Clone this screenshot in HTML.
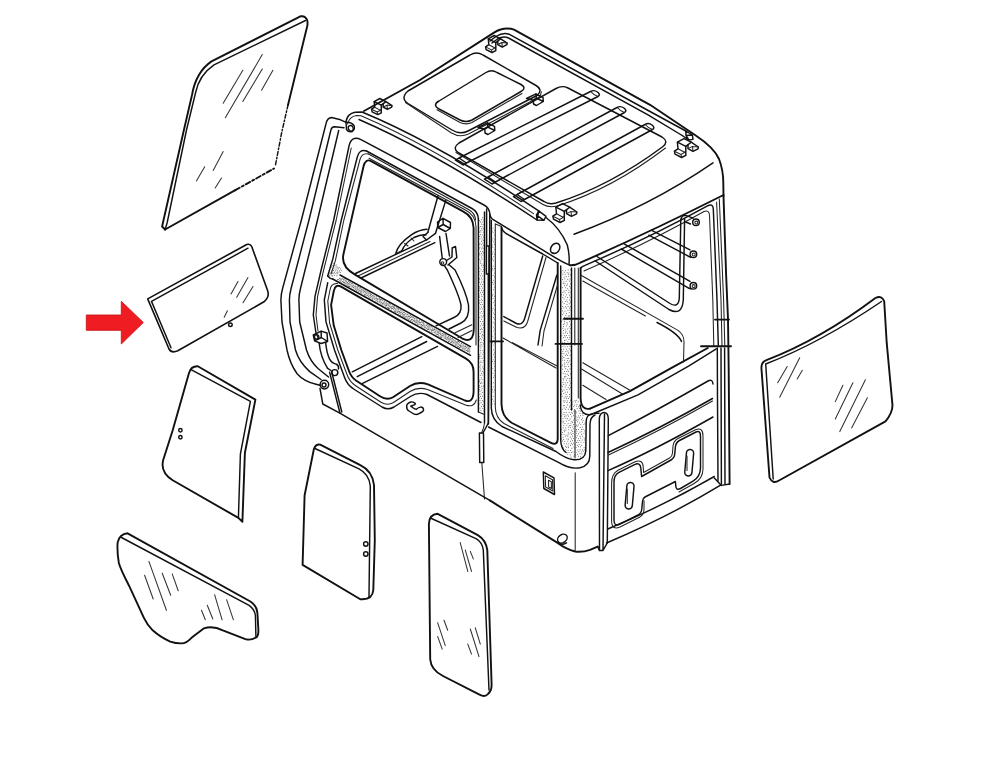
<!DOCTYPE html>
<html><head><meta charset="utf-8"><title>Cab glass diagram</title>
<style>
html,body{margin:0;padding:0;background:#fff;}
body{width:1000px;height:766px;overflow:hidden;font-family:"Liberation Sans",sans-serif;}
svg{display:block;}
.k{fill:none;stroke:#111;stroke-width:1.45;stroke-linecap:round;stroke-linejoin:round;}
.k2{fill:none;stroke:#111;stroke-width:1.9;stroke-linecap:round;stroke-linejoin:round;}
.t{fill:none;stroke:#222;stroke-width:1.05;stroke-linecap:round;stroke-linejoin:round;}
.r{fill:none;stroke:#333;stroke-width:1.05;stroke-linecap:round;}
</style></head><body>
<svg width="1000" height="766" viewBox="0 0 1000 766">
<rect width="1000" height="766" fill="#fff"/>
<!-- ARROW -->
<polygon points="86.3,315 121.3,315 121.3,301.3 143.3,322.5 121.3,344 121.3,330.3 86.3,330.3" fill="#ef1c21" stroke="#c7181d" stroke-width="0.9" stroke-linejoin="miter"/>

<!-- PANEL 1 : large upper-left glass -->
<g id="p1">
<path class="k2" d="M165.1,229.5 L162.1,226.5 L183.9,130 L192,95 Q196,72 211.5,61.4 L300.4,16.3 Q306,15.5 307.5,21.3 L307.5,25 L288,105"/>
<path class="k" d="M165.1,229.5 L167.1,223 L186.5,130 L195.5,93 Q199,75 214,64.8 L305.5,20.5"/>
<path class="k2" d="M165.1,229.5 L235.3,190.2"/>
<path class="k2" stroke-dasharray="5 2.5 2 2.5" d="M235.3,190.2 L274,168.5"/>
<path class="k" stroke-dasharray="4 2 1.5 2" d="M288,105 L281.6,133 L275.4,165.4"/>
<path class="r" d="M262.3,54.6 L225.3,117.8 M242.8,70.2 L223.2,103.3 M262.3,69 L242.8,101.5 M272.9,70.2 L261.6,90.2 M223.2,151.6 L213.2,170.4 M204.7,166.7 L196.4,181 M221.5,178 L215.2,188"/>
</g>

<!-- PANEL 2 : arrow target -->
<g id="p2">
<path class="k" style="stroke-width:1.6" d="M147.7,298.9 L246.7,244.5 Q250.5,243.5 251.7,246.5 L267.5,290.2 Q270,297 264,301.8 L177.8,350.8 Q171.5,353.5 169,349 Z"/>
<path class="k" d="M151.5,301.4 L171,347.8 M151.5,301.4 L248,248.2"/>
<circle class="k" cx="230.4" cy="324.7" r="1.8"/>
<path class="r" d="M248,277.6 L236.7,297.2 M238,281.4 L231,293.9 M253,286.4 L243,302.7 M227.4,310.7 L224.2,317.2"/>
</g>

<!-- PANEL 3 -->
<g id="p3">
<path class="k2" d="M197.8,366.3 L255.4,399.6 L244.9,452.8 L242.4,521.7 L238.4,517.9 L172.7,480.3 Q160,472 163.2,460 L172.7,430.2 L189,373 Q191,366 197.8,366.3 Z"/>
<path class="k" d="M191.5,369.8 L250.4,401.4 L240.4,454 L238.4,517.9"/>
<circle class="k" cx="180.4" cy="430.2" r="1.7"/><circle class="k" cx="180.4" cy="437.2" r="1.7"/>
</g>

<!-- PANEL 4 -->
<g id="p4">
<path class="k2" d="M320.2,444.6 L360.3,465.1 Q372.5,471 374,485 L374.8,540.3 L373.3,590 Q372.5,599.5 362,599.2 L360.3,599.2 L302.6,564.9 L304.6,495.2 L313.9,449 Q315.5,444 320.2,444.6 Z"/>
<path class="k" d="M315,448.5 L359,468.9 Q369,474 370.3,486 L369,597"/>
<circle class="k" cx="365.8" cy="544" r="2.2"/><circle class="k" cx="365.8" cy="554" r="2.2"/>
</g>

<!-- PANEL 5 -->
<g id="p5">
<path class="k2" d="M127.6,533.3 L250.4,601.5 Q257,606 257.4,613 L258.4,630.3 Q258.5,637 255.4,637.8 Q251,640.5 245.4,639.1 L222.8,630.3 Q213,625.5 204,628.3 L191.5,637.8 Q186,643.5 181.5,643.4 Q176,643.5 170.2,641.6 Q160,637 152.7,630.3 Q147,624.5 143.9,617.8 L128.8,585.2 Q120,568 118.8,562.7 Q117,552 117.6,542.6 Q119.5,534 127.6,533.3 Z"/>
<path class="k" d="M121.5,537.5 L249.1,605.3 Q254.5,609 255.4,615.3 L255.9,636.6"/>
<path class="r" d="M148.9,561.4 L166.4,610.3 M144.6,575.2 L153.2,599 M162.2,573.2 L170.7,595.2 M172.2,573.9 L178.2,590.7 M214.6,594.7 L222.1,619.8 M226.6,599.7 L233.4,619.8 M207.3,605.3 L212.8,619 M201.5,610.3 L205.3,619.8"/>
</g>

<!-- PANEL 6 -->
<g id="p6">
<path class="k2" d="M437.7,513.8 L477.8,535.1 Q486,540 487.3,550.1 L491.6,684.3 Q492,690.5 488,694 Q485,697.5 479.5,694.6 L443,676 Q431,670 430.2,659.2 L428.9,524 Q429,514.5 437.7,513.8 Z"/>
<path class="k" d="M431.5,518.5 L476.5,538.8 Q482.5,542.5 483.3,550.1 L489,690"/>
<path class="r" d="M460.2,542.6 L467.8,571.4 M465.3,550.1 L471.5,571.4 M470.3,551.4 L473.3,558.9 M437.7,622.8 L445.2,645.4 M444,620.3 L447.7,630.3 M437.7,636.6 L442.2,649.1 M470.3,629 L479,656.6 M475.3,627.8 L480.3,644.1 M467.8,644.1 L471.5,654.1"/>
</g>

<!-- PANEL 7 : right -->
<g id="p7">
<path class="k2" d="M766.4,360.2 Q821,339 875.4,298 Q882,295 884.2,301.3 L886.7,342.7 L892.5,405.3 Q892.5,413 885.5,421.4 L779,480.5 Q772.5,484.5 769.5,477.5 L761.4,367.7 Q761.5,362 766.4,360.2 Z"/>
<path class="k" d="M765.7,364 Q821,342.5 881.5,301.5 M765.7,364 L773.2,479"/>
<path class="r" d="M799.7,357.7 L779.7,397.3 M787.2,366.5 L777.7,382.8 M802.3,370.2 L797.2,379 M865.4,379.7 L839.8,431.6 M852.9,382.8 L835.3,419.1 M867.4,397.8 L851.6,427.9 M842.9,385.3 L835.3,401.6"/>
</g>

<!-- CAB -->
<g id="cab">
<path class="k" d="M346,122.3 L340.6,119.8 L331.6,117.5 Q327.3,117.8 326,123.7 L301.4,220 L282.7,288 Q280.5,296 281,302 L282,322 L287,350 Q290,364 297.3,374 Q304,381.5 316,384.3 L320,385.3"/>
<path class="k" d="M344,127.7 L334.6,126.8 Q331.5,127 330.9,130 L309,220 L291.2,288 Q289,296 289.5,303 L290,322 L295.5,350 Q299,362 309.7,371.6 L321,379.5"/>
<path class="k" d="M338.7,130.5 L317.5,220 L300.6,288 Q298.5,296 299,302 L299.7,322 L306.5,350 Q310,361 318,368.5 L328.5,377"/>
<path class="k" d="M346,122.3 Q351,121.5 354,125.5 Q355.5,129.5 352,131.5 Q348.5,132.5 346.5,129.5 Z"/>
<ellipse class="k" cx="350.8" cy="128.3" rx="2.4" ry="2.9" transform="rotate(-25 350.8 128.3)"/>
<path class="k" d="M488.5,424 L489.8,214 Q489.5,208 484,205 L361,139.6 Q351.5,135 349,146 L333.7,220 L320.9,271 L315,296.4 L313.3,315 L315.8,332"/>
<path class="t" d="M351.2,148 L336.2,220 L323.4,271 L317.6,296.4 L316,315 L318,331"/>
<path class="k" d="M366.5,151 Q359,149 357.3,157 L341.3,220 L332.8,259 L327.7,276"/>
<path class="t" d="M368.5,154 Q362,152.5 360,159.5 L343.9,220 L335.4,260.7 L331,274"/>
<path class="k" d="M366.5,151 L472,208.5 Q478.2,212 478.4,219"/>
<path class="t" d="M368.5,154 L469,209.8 Q475.3,213.5 475.5,220"/>
<path class="k2" d="M371.5,161.3 L463,211.3 Q473.3,216.5 473.6,228 L473.8,328 Q473.8,344.5 462,338.3 L355,274.6 Q340.5,266.5 343.5,254 L363.5,166.5 Q365.5,158 371.5,161.3 Z"/>
<path class="t" d="M369,158.2 L465,209.8 Q475.8,215 476,227 L476,345"/>
<path class="k" d="M340,275 L470.5,346.6"/>
<path class="k" d="M332.7,279 L470.5,355.3"/>
<path class="k" d="M327.7,276 Q330,279 332.7,279"/>
<path d="M339.5,278.4h0.01M340.9,278.4h0.01M342.6,278.8h0.01M344.2,278.6h0.01M337.4,279.6h0.01M338.8,279.6h0.01M340.5,279.9h0.01M341.6,279.9h0.01M343.5,279.7h0.01M344.9,279.9h0.01M346.1,280.1h0.01M339.5,280.9h0.01M340.8,281.4h0.01M342.4,281.5h0.01M343.8,281.1h0.01M345.4,281.0h0.01M346.8,281.5h0.01M348.6,281.4h0.01M341.7,282.7h0.01M343.4,282.5h0.01M344.4,282.5h0.01M346.1,282.8h0.01M347.4,282.4h0.01M349.3,282.2h0.01M350.4,282.7h0.01M344.2,283.8h0.01M345.7,283.9h0.01M347.1,283.6h0.01M348.5,283.7h0.01M349.7,284.0h0.01M351.4,283.6h0.01M352.5,283.8h0.01M346.3,285.1h0.01M347.7,285.1h0.01M348.9,284.9h0.01M350.3,284.9h0.01M351.9,285.3h0.01M353.5,285.3h0.01M355.0,285.0h0.01M348.5,286.4h0.01M349.6,286.5h0.01M351.0,286.3h0.01M352.6,286.2h0.01M354.1,286.6h0.01M355.7,286.4h0.01M357.1,286.4h0.01M358.3,286.5h0.01M352.0,287.7h0.01M353.6,287.5h0.01M355.0,287.8h0.01M356.2,288.0h0.01M357.7,287.7h0.01M359.2,287.9h0.01M360.5,287.7h0.01M354.1,288.9h0.01M355.4,289.2h0.01M357.2,289.0h0.01M358.2,289.2h0.01M360.1,288.9h0.01M361.4,289.3h0.01M363.1,289.1h0.01M356.4,290.3h0.01M357.9,290.1h0.01M359.4,290.3h0.01M360.9,290.6h0.01M362.1,290.1h0.01M363.8,290.3h0.01M365.2,290.2h0.01M358.6,291.8h0.01M360.1,291.6h0.01M361.5,291.8h0.01M363.1,291.4h0.01M364.5,291.4h0.01M365.9,291.7h0.01M367.2,291.9h0.01M360.7,292.9h0.01M361.9,293.1h0.01M363.3,292.8h0.01M365.2,292.7h0.01M366.4,293.2h0.01M368.1,292.8h0.01M369.3,293.1h0.01M370.7,293.2h0.01M364.6,294.3h0.01M365.5,294.3h0.01M367.1,294.1h0.01M368.7,294.0h0.01M370.3,294.4h0.01M371.6,294.5h0.01M364.8,295.3h0.01M366.2,295.8h0.01M367.7,295.6h0.01M369.2,295.7h0.01M370.7,295.4h0.01M372.5,295.6h0.01M373.8,295.8h0.01M368.6,296.7h0.01M370.1,297.1h0.01M371.3,296.6h0.01M373.0,297.0h0.01M374.6,296.8h0.01M376.2,296.7h0.01M369.5,298.1h0.01M370.9,298.1h0.01M372.3,298.2h0.01M373.8,298.1h0.01M375.2,298.2h0.01M376.4,298.2h0.01M377.9,298.4h0.01M379.5,298.3h0.01M372.7,299.4h0.01M374.5,299.2h0.01M376.1,299.2h0.01M377.4,299.3h0.01M379.0,299.5h0.01M380.4,299.5h0.01M381.8,299.6h0.01M375.3,301.0h0.01M376.8,300.9h0.01M377.9,300.9h0.01M379.7,301.0h0.01M380.7,300.9h0.01M382.3,300.6h0.01M384.1,300.9h0.01M377.3,302.0h0.01M379.1,302.0h0.01M380.0,302.3h0.01M381.6,302.3h0.01M383.2,302.3h0.01M384.5,301.9h0.01M386.2,302.1h0.01M380.9,303.7h0.01M382.6,303.6h0.01M383.8,303.6h0.01M385.1,303.2h0.01M386.8,303.4h0.01M388.0,303.3h0.01M389.4,303.6h0.01M381.9,305.0h0.01M383.0,304.9h0.01M384.7,304.9h0.01M386.2,304.7h0.01M387.2,304.9h0.01M388.8,304.8h0.01M390.3,304.7h0.01M385.5,305.8h0.01M386.6,305.7h0.01M388.2,305.8h0.01M389.5,306.2h0.01M391.1,306.3h0.01M392.5,306.1h0.01M393.7,306.3h0.01M385.8,307.1h0.01M387.5,307.4h0.01M388.8,307.5h0.01M390.5,307.2h0.01M391.8,307.1h0.01M393.5,307.4h0.01M394.5,307.1h0.01M396.3,307.2h0.01M388.4,308.5h0.01M389.7,308.5h0.01M391.3,308.4h0.01M392.6,308.5h0.01M394.2,308.5h0.01M395.7,308.8h0.01M397.1,308.4h0.01M398.6,308.8h0.01M391.6,310.1h0.01M393.3,309.6h0.01M394.9,310.1h0.01M396.1,310.0h0.01M397.9,309.9h0.01M399.0,309.8h0.01M400.6,310.0h0.01M394.3,311.5h0.01M395.4,311.3h0.01M397.1,311.4h0.01M398.3,311.4h0.01M399.7,311.5h0.01M401.2,311.0h0.01M402.8,311.0h0.01M395.9,312.5h0.01M397.6,312.4h0.01M399.2,312.4h0.01M400.6,312.7h0.01M401.9,312.5h0.01M403.7,312.6h0.01M404.7,312.3h0.01M398.6,314.1h0.01M399.8,313.8h0.01M401.1,314.1h0.01M402.5,313.6h0.01M404.0,314.1h0.01M405.8,313.7h0.01M407.3,314.1h0.01M400.6,315.2h0.01M402.2,315.0h0.01M403.7,315.0h0.01M404.6,315.0h0.01M406.1,314.9h0.01M407.8,314.9h0.01M409.0,315.0h0.01M410.5,315.4h0.01M402.9,316.4h0.01M403.9,316.3h0.01M405.7,316.6h0.01M406.9,316.5h0.01M408.6,316.5h0.01M409.7,316.4h0.01M411.3,316.5h0.01M412.8,316.2h0.01M404.8,317.5h0.01M406.1,317.9h0.01M407.6,318.0h0.01M409.1,318.0h0.01M410.6,317.6h0.01M412.1,317.5h0.01M413.5,317.7h0.01M414.7,318.0h0.01M408.7,319.3h0.01M409.7,318.9h0.01M411.4,319.3h0.01M412.6,319.3h0.01M414.2,319.1h0.01M416.0,318.8h0.01M417.1,318.9h0.01M410.7,320.4h0.01M411.9,320.1h0.01M413.7,320.5h0.01M415.0,320.6h0.01M416.7,320.2h0.01M417.7,320.4h0.01M419.5,320.2h0.01M412.9,321.4h0.01M414.6,321.4h0.01M415.9,321.8h0.01M417.1,321.8h0.01M418.6,321.8h0.01M419.8,321.9h0.01M421.5,321.9h0.01M423.0,321.9h0.01M415.3,322.9h0.01M416.5,322.7h0.01M417.9,323.0h0.01M419.5,322.9h0.01M420.5,322.7h0.01M422.3,322.8h0.01M423.6,323.0h0.01M417.3,324.2h0.01M418.9,324.4h0.01M420.1,324.2h0.01M421.4,324.5h0.01M423.2,324.2h0.01M424.2,324.1h0.01M426.2,324.0h0.01M427.5,324.3h0.01M421.0,325.7h0.01M422.5,325.5h0.01M423.8,325.8h0.01M425.0,325.8h0.01M426.3,325.6h0.01M428.1,325.4h0.01M429.8,325.5h0.01M421.7,326.8h0.01M422.9,327.0h0.01M424.6,327.1h0.01M425.8,327.1h0.01M427.5,326.9h0.01M428.7,326.9h0.01M430.0,326.6h0.01M431.6,326.7h0.01M425.0,328.1h0.01M426.5,328.3h0.01M428.1,328.4h0.01M429.2,328.0h0.01M430.8,328.1h0.01M432.4,328.1h0.01M434.2,328.2h0.01M427.3,329.6h0.01M428.5,329.5h0.01M430.1,329.6h0.01M431.9,329.5h0.01M433.2,329.4h0.01M434.5,329.5h0.01M436.1,329.3h0.01M429.8,331.0h0.01M431.3,330.7h0.01M432.4,330.6h0.01M433.8,330.5h0.01M435.3,331.1h0.01M436.9,330.7h0.01M438.1,331.1h0.01M439.4,331.0h0.01M431.5,331.9h0.01M433.0,332.3h0.01M434.4,332.2h0.01M435.8,331.9h0.01M437.6,332.1h0.01M438.7,332.1h0.01M440.7,332.0h0.01M435.1,333.1h0.01M436.9,333.2h0.01M438.4,333.1h0.01M439.4,333.3h0.01M440.9,333.4h0.01M442.5,333.6h0.01M444.0,333.7h0.01M436.3,334.6h0.01M437.4,334.5h0.01M438.7,334.9h0.01M440.7,334.5h0.01M441.8,335.0h0.01M443.5,335.0h0.01M445.0,334.6h0.01M445.9,334.6h0.01M438.2,336.1h0.01M439.9,336.1h0.01M441.1,336.2h0.01M442.6,335.7h0.01M444.1,336.0h0.01M445.4,336.0h0.01M446.8,335.9h0.01M448.5,336.3h0.01M440.5,337.4h0.01M441.6,337.3h0.01M443.0,337.1h0.01M445.0,337.3h0.01M446.0,337.3h0.01M447.4,337.4h0.01M448.9,337.2h0.01M450.6,337.6h0.01M444.1,338.8h0.01M445.4,338.7h0.01M447.1,338.6h0.01M448.5,338.9h0.01M449.7,338.7h0.01M451.3,338.8h0.01M452.6,338.5h0.01M446.4,339.7h0.01M447.8,339.9h0.01M449.2,340.0h0.01M450.7,339.8h0.01M452.1,339.9h0.01M453.6,339.9h0.01M455.0,340.2h0.01M448.5,341.4h0.01M449.7,341.2h0.01M451.3,341.3h0.01M452.4,341.4h0.01M454.1,341.0h0.01M455.8,341.3h0.01M457.2,341.4h0.01M458.6,341.5h0.01M450.8,342.6h0.01M451.8,342.5h0.01M453.7,342.3h0.01M454.9,342.6h0.01M456.3,342.3h0.01M457.6,342.8h0.01M459.2,342.4h0.01M452.7,344.0h0.01M453.9,343.9h0.01M455.5,344.0h0.01M457.0,343.7h0.01M458.4,344.0h0.01M460.1,344.1h0.01M461.4,343.6h0.01M455.2,345.3h0.01M456.6,345.0h0.01M457.9,345.1h0.01M459.4,345.3h0.01M460.6,345.4h0.01M462.1,345.1h0.01M463.7,345.0h0.01M465.3,345.1h0.01M457.4,346.7h0.01M458.5,346.7h0.01M460.3,346.4h0.01M461.2,346.3h0.01M462.9,346.3h0.01M464.2,346.6h0.01M465.5,346.5h0.01M467.2,346.6h0.01M459.5,347.5h0.01M460.9,347.5h0.01M462.2,348.1h0.01M463.7,348.0h0.01M465.0,348.0h0.01M466.7,347.6h0.01M468.1,348.0h0.01M469.2,347.7h0.01M462.8,349.0h0.01M464.2,349.1h0.01M465.8,348.8h0.01M467.3,349.2h0.01M468.5,348.9h0.01M469.8,349.1h0.01M465.1,350.3h0.01M466.7,350.5h0.01M467.9,350.5h0.01M469.2,350.2h0.01M467.5,351.7h0.01M468.7,351.6h0.01M470.0,351.7h0.01M469.4,353.1h0.01" fill="none" stroke="#333" stroke-width="0.9" stroke-linecap="round"/>
<path d="M333.5,263.8h0.01M332.9,265.7h0.01M334.9,265.5h0.01M336.2,265.0h0.01M331.6,266.9h0.01M333.9,266.9h0.01M336.0,267.1h0.01M337.3,267.1h0.01M339.2,267.4h0.01M333.1,268.8h0.01M335.0,269.2h0.01M336.9,269.0h0.01M338.6,268.8h0.01M340.6,268.9h0.01M331.8,270.8h0.01M333.6,270.5h0.01M335.7,270.9h0.01M337.3,270.8h0.01M339.6,270.9h0.01M341.2,270.7h0.01M331.1,272.5h0.01M332.9,272.3h0.01M334.5,272.3h0.01M337.0,272.6h0.01M338.1,272.1h0.01M340.2,272.5h0.01M329.7,273.8h0.01M332.2,273.7h0.01M333.8,273.8h0.01M335.9,273.6h0.01M337.7,273.8h0.01M329.4,275.8h0.01M331.2,275.9h0.01M332.4,275.9h0.01M334.6,275.4h0.01M336.9,275.8h0.01" fill="none" stroke="#333" stroke-width="0.84" stroke-linecap="round"/>
<path class="k2" d="M341,286.6 L466,358.6 Q473.6,363 473.6,372 L473.6,392 Q473,403.5 465,400.5 L428,384.4 Q418,381 410,386 L393,397.2 Q387,400.8 380,396.3 L356,380.5 Q351,377 349,371 L341.3,350 L333.7,325.3 L331.1,304.9 L333.8,291 Q335.5,283.5 341,286.6 Z"/>
<path class="k" d="M327.7,282.8 L324.3,299.8 L326,321.9 L334.5,350 L344.4,377 Q347,385 354.4,389.5 L382,407 Q388,410.5 394,407 L410.4,396.5 Q418,391.5 427,394.5 L481,422.5"/>
<path class="t" d="M337.5,283.5 Q331,283 330,290 L327.8,301 L329.6,323 L337.8,350 L346.8,374 Q349.5,382 356,386 L381,402.2 Q387.5,406 393.5,402.5 L410,391.5 Q418,386.5 427.5,389.5 L465.5,405 Q474,408 476.3,400"/>
<path class="k" d="M478.4,219 L478.4,412"/>
<path class="k" d="M484.5,212 L484.5,423"/>
<path class="k" d="M486.6,209 L486.6,246 M488.3,274 L488.3,423 Q486,428 483,432.5"/>
<path d="M482.6,217.7h0.01M479.3,220.6h0.01M481.3,219.8h0.01M483.2,219.9h0.01M480.6,222.0h0.01M482.2,222.2h0.01M481.6,224.1h0.01M483.1,224.7h0.01M480.5,226.6h0.01M482.2,226.8h0.01M479.1,228.0h0.01M481.8,228.6h0.01M483.3,228.8h0.01M480.2,230.6h0.01M482.0,230.2h0.01M479.3,232.1h0.01M481.0,232.1h0.01M483.7,232.2h0.01M480.4,234.6h0.01M482.7,235.0h0.01M479.5,236.4h0.01M481.2,237.0h0.01M483.4,237.1h0.01M480.0,238.9h0.01M482.2,239.0h0.01M481.5,241.2h0.01M483.2,240.5h0.01M479.9,243.2h0.01M482.6,243.1h0.01M479.3,244.7h0.01M481.3,244.5h0.01M483.5,245.1h0.01M479.9,247.3h0.01M482.2,247.0h0.01M479.2,248.8h0.01M481.5,249.0h0.01M483.1,248.7h0.01M480.3,251.5h0.01M482.6,251.6h0.01M479.2,253.5h0.01M481.6,253.4h0.01M483.6,252.9h0.01M479.9,254.9h0.01M482.1,255.2h0.01M481.6,257.2h0.01M479.8,259.6h0.01M482.1,259.0h0.01M480.8,261.1h0.01M480.5,263.2h0.01M482.0,264.0h0.01M481.5,265.7h0.01M483.4,265.3h0.01M479.8,268.0h0.01M482.9,267.3h0.01M481.1,269.8h0.01M483.6,269.6h0.01M479.8,271.8h0.01M482.8,271.5h0.01M479.0,274.3h0.01M481.4,273.8h0.01M480.6,275.8h0.01M482.4,276.0h0.01M479.3,278.2h0.01M481.4,278.1h0.01M479.8,279.8h0.01M482.2,279.8h0.01M479.5,282.3h0.01M481.6,282.2h0.01M483.6,282.0h0.01M480.5,284.2h0.01M482.4,284.6h0.01M479.4,286.9h0.01M481.3,286.3h0.01M479.9,288.4h0.01M482.3,288.2h0.01M479.3,290.4h0.01M481.4,290.3h0.01M483.2,290.8h0.01M480.4,292.8h0.01M482.6,292.3h0.01M479.0,295.0h0.01M481.6,294.8h0.01M483.7,294.3h0.01M479.7,297.1h0.01M482.0,296.5h0.01M481.5,299.2h0.01M479.9,300.5h0.01M482.3,300.5h0.01M479.5,303.0h0.01M481.3,302.5h0.01M480.4,304.7h0.01M482.2,304.6h0.01M479.0,306.9h0.01M481.4,307.3h0.01M483.3,306.7h0.01M480.2,309.0h0.01M482.4,309.0h0.01M481.5,311.4h0.01M483.8,311.4h0.01M480.2,313.0h0.01M482.9,313.3h0.01M481.2,315.8h0.01M483.5,315.7h0.01M479.8,317.5h0.01M482.2,317.2h0.01M481.4,319.4h0.01M480.5,321.5h0.01M482.7,321.5h0.01M481.4,323.9h0.01M483.6,323.9h0.01M480.6,326.0h0.01M482.9,325.6h0.01M481.6,328.2h0.01M483.5,327.7h0.01M480.6,329.6h0.01M482.1,329.5h0.01M481.2,331.9h0.01M483.1,331.8h0.01M480.2,333.5h0.01M482.4,334.4h0.01M479.2,336.5h0.01M481.7,336.1h0.01M483.1,335.6h0.01M480.2,338.5h0.01M482.3,337.8h0.01M479.3,340.2h0.01M481.3,339.8h0.01M483.7,340.3h0.01M480.4,342.7h0.01M482.0,342.6h0.01M481.1,344.6h0.01M483.5,343.9h0.01M480.1,346.1h0.01M482.0,346.0h0.01M480.8,348.1h0.01M480.6,350.6h0.01M482.9,350.7h0.01M480.9,352.9h0.01M483.8,352.4h0.01M479.8,354.8h0.01M482.9,354.4h0.01M479.5,356.8h0.01M481.0,356.4h0.01M483.8,357.2h0.01M479.9,358.6h0.01M482.1,358.5h0.01M481.0,361.1h0.01M483.3,360.7h0.01M480.1,362.6h0.01M482.0,362.6h0.01M480.8,365.0h0.01M480.0,367.0h0.01M482.4,366.9h0.01M480.9,368.9h0.01M483.4,368.8h0.01M480.3,370.9h0.01M482.5,371.4h0.01M481.6,373.3h0.01M483.3,372.9h0.01M480.3,375.3h0.01M482.2,375.0h0.01M481.3,377.8h0.01M479.9,379.9h0.01M482.2,379.6h0.01M479.4,381.6h0.01M481.2,382.1h0.01M480.4,383.4h0.01M482.0,383.2h0.01M479.4,385.8h0.01M481.7,386.2h0.01M483.3,386.2h0.01M479.9,387.5h0.01M482.2,388.3h0.01M479.4,389.7h0.01M481.3,390.2h0.01M480.0,391.7h0.01M482.5,392.4h0.01M479.1,394.4h0.01M481.0,394.0h0.01M480.4,396.4h0.01M482.4,396.3h0.01M479.2,398.1h0.01M481.3,398.5h0.01M480.0,400.4h0.01M482.5,400.6h0.01M481.1,402.6h0.01M483.8,401.8h0.01M479.8,404.0h0.01M482.5,404.6h0.01M481.4,406.6h0.01M483.5,406.2h0.01M480.0,408.2h0.01M482.8,408.4h0.01M481.0,410.4h0.01M483.8,410.9h0.01" fill="none" stroke="#333" stroke-width="0.84" stroke-linecap="round"/>
<path class="t" d="M478.4,412 L484.5,414.5"/>
<path class="k" d="M486.4,246 L489,246 L489,274 L486.4,274 Z"/>
<path class="k" d="M479.4,433 L483.5,433 L483.8,462.5 L479.7,462.5 Z"/>
<path class="t" d="M484.5,423 Q484,428 481.5,433 M481.8,462.5 L484.5,499"/>
<path class="k" d="M320,388.5 L322.8,404 L339.4,412.9 L489.8,500.4"/>
<path class="t" d="M315.8,332 L318,338"/>
<path class="k" d="M346,121.5 Q347.5,113.5 355,112.2 L362,112 Q437,143 538.7,210.9"/>
<path class="k2" d="M364,111 L420,80 L494,32.6 Q504,26.5 514,29.6 L650,104.8 L695.4,135.2 Q714,147.5 719,159 Q723.3,170 723.3,183 L723.5,196"/>
<path class="t" d="M347.5,124 Q349.5,116.5 356.5,115.5 L361,115.8 Q435,147.5 533.5,213.6"/>
<path class="k" d="M359,119.5 Q434,152 537,220"/>
<path class="k" d="M538.7,210.9 L546,216.3 L544,220.3 L537,220 Z M538.7,210.9 L536.5,215 L537,220 M536.5,215 L544,220.3"/>
<path class="k" d="M490,41 L496,36.5 Q503,32 509,34.2 L650,111.5 L685.8,131"/>
<path class="k" d="M492,43 L497.5,39 Q503.5,35.5 508.5,38 L648,114.8 L682.2,135.5"/>
<path class="k" d="M685.8,131 L692.4,135 L693,139.4 L688.8,140 L682.2,135.5 M685.8,131 L686,135.5 L688.8,140 M686,135.5 L692.4,135"/>
<path class="k" d="M408,91 L470,55 Q476.5,51 483,55 L536,85.5 Q543.5,90 537,95.5 L468,131 Q460,135 452,130 L408,103.5 Q400,98 408,91 Z"/>
<path class="t" d="M405.5,102.5 L451.5,133 Q460,138 468.5,134 L538.5,97.5 Q541.5,95 541.2,91.5"/>
<path class="k" d="M439,101 L486,72.5 Q491.5,69 497,72.5 L521,84.5 Q527,88 521,91.5 L472,120 Q466,123 460,120 L439,109 Q432,105 439,101 Z"/>
<path class="t" d="M437,109.8 L460,122.5 Q466,125.3 472,122.5 L522,93.5"/>
<path class="k" d="M526.5,98.5 L536,93.8 L543,97.3 L543.3,101.5 L536.5,105.5 L533.5,104 L533.3,100.2 L526.5,98.5 M536,93.8 L536.3,98.2 L533.3,100.2 M536.3,98.2 L543.3,101.5"/>
<path class="k" d="M478,127.5 L487.5,122.8 L494.5,126.3 L494.8,130.5 L488,134.5 L485,133 L484.8,129.2 L478,127.5 M487.5,122.8 L487.8,127.2 L484.8,129.2 M487.8,127.2 L494.8,130.5"/>
<path class="k" d="M459,143 L556,88.5 Q562,85 568,88 L662,137 Q669,141.5 663,146.5 Q610,186 556,203 Q549,205 544,201.5 L458,152.5 Q452,148 459,143 Z"/>
<path class="t" d="M456,152.5 L543,204.5 Q549,208 557,206 Q612,189 665.5,148"/>
<path class="k" d="M459,158 L590.5,91.5 Q594.0,89.5 597.5,92.0 Q601.0,95.0 598.0,96.5 L466.5,163 M459,158 L455.5,160.2 L463,165 L466.5,163 M459,158 L466.5,163"/>
<path class="t" d="M591.0,91.8 Q593.5,95.0 598.0,96.5"/>
<path class="k" d="M488,177 L617,107.5 Q620.5,105.5 624,108.0 Q627.5,111.0 624.5,112.5 L495.5,182 M488,177 L484.5,179.2 L492,184 L495.5,182 M488,177 L495.5,182"/>
<path class="t" d="M617.5,107.8 Q620,111.0 624.5,112.5"/>
<path class="k" d="M517,194.5 L645,124.5 Q648.5,122.5 652,125.0 Q655.5,128.0 652.5,129.5 L524.5,199.5 M517,194.5 L513.5,196.7 L521,201.5 L524.5,199.5 M517,194.5 L524.5,199.5"/>
<path class="t" d="M645.5,124.8 Q648,128.0 652.5,129.5"/>
<path class="k" d="M374.2,101.6 L379.8,98.5 L385.9,101.6 L381.3,105.1 Z"/>
<path class="k" d="M374.2,101.6 L374.7,107.2 L371.6,109.2 L372.1,111.8 L377.8,114.6 L381.3,112.8 L381.3,105.1"/>
<path class="t" d="M374.7,107.2 L380.2,110.1 L381.3,109.2 M371.6,109.2 L377.2,112.0 L377.8,114.6 M377.2,112.0 L380.5,110.2"/>
<path class="k" d="M385.9,101.6 L392.0,105.7 L391.7,107.2 L387.4,109.4 L383.2,107.0 L383.2,103.8"/>
<path class="t" d="M383.2,107.0 L387.0,105.1 L392.0,105.7 M387.0,105.1 L387.4,109.4"/>
<path class="k" d="M488.3,38.8 L494.2,35.5 L500.7,38.8 L495.8,42.6 Z"/>
<path class="k" d="M488.3,38.8 L488.8,44.7 L485.6,46.9 L486.1,49.6 L492.0,52.5 L495.8,50.7 L495.8,42.6"/>
<path class="t" d="M488.8,44.7 L494.6,47.8 L495.8,46.9 M485.6,46.9 L491.5,49.9 L492.0,52.5 M491.5,49.9 L494.9,48.0"/>
<path class="k" d="M500.7,38.8 L507.2,43.1 L506.8,44.7 L502.3,47.1 L497.8,44.5 L497.8,41.1"/>
<path class="t" d="M497.8,44.5 L501.9,42.6 L507.2,43.1 M501.9,42.6 L502.3,47.1"/>
<path class="k" d="M677.4,142.2 L684.0,138.6 L691.2,142.2 L685.8,146.4 Z"/>
<path class="k" d="M677.4,142.2 L678.0,148.8 L674.4,151.2 L675.0,154.2 L681.6,157.5 L685.8,155.4 L685.8,146.4"/>
<path class="t" d="M678.0,148.8 L684.5,152.2 L685.8,151.2 M674.4,151.2 L681.0,154.5 L681.6,157.5 M681.0,154.5 L684.8,152.4"/>
<path class="k" d="M691.2,142.2 L698.4,147.0 L698.0,148.8 L693.0,151.4 L688.0,148.6 L688.0,144.8"/>
<path class="t" d="M688.0,148.6 L692.5,146.4 L698.4,147.0 M692.5,146.4 L693.0,151.4"/>
<path class="k" d="M555.9,207.2 L562.5,203.6 L569.7,207.2 L564.3,211.4 Z"/>
<path class="k" d="M555.9,207.2 L556.5,213.8 L552.9,216.2 L553.5,219.2 L560.1,222.5 L564.3,220.4 L564.3,211.4"/>
<path class="t" d="M556.5,213.8 L563.0,217.2 L564.3,216.2 M552.9,216.2 L559.5,219.5 L560.1,222.5 M559.5,219.5 L563.3,217.4"/>
<path class="k" d="M569.7,207.2 L576.9,212.0 L576.5,213.8 L571.5,216.4 L566.5,213.6 L566.5,209.8"/>
<path class="t" d="M566.5,213.6 L571.0,211.4 L576.9,212.0 M571.0,211.4 L571.5,216.4"/>
<path class="k" d="M574,234.2 Q650,206 713,162.8"/>
<path class="k2" d="M570,265.3 Q575.5,265.5 580.3,262.7 Q650,232 723.5,195"/>
<path class="k" d="M546,217.5 Q560,228 567.3,245 Q569.8,255 569,264"/>
<ellipse class="k" cx="555.2" cy="248.4" rx="4.2" ry="5.6" transform="rotate(35 555.2 248.4)"/>
<path class="t" d="M552.5,252.5 Q555.5,254.5 558.3,251.5"/>
<path class="k" d="M489.8,214 Q490,217 492,218.8 L555.2,257.7 Q563,262.5 570,265.3"/>
<path class="k" d="M491.3,220.5 L491.3,408 Q491.5,420 502,426.5 L556,451.5 Q565,458.5 574,459.8 Q585,460.3 585.8,451 L586.2,421 Q586.5,414.5 593,413.6 L599,413.2"/>
<path class="k" d="M488.5,427 L559.4,462.9 Q570,469.5 580,467.8 Q589.8,465.5 589.8,456 L590,424 Q590.3,417 595,415"/>
<path class="t" d="M495.3,224 L495.3,407 Q495.5,418 504,423.5 L553,448.5"/>
<path class="t" d="M495.3,224 L501.5,226.5"/>
<path class="k2" d="M501.5,227.5 L501.5,404 Q501.8,417 512,423 L551,442.8 Q557.5,446 557.7,439 L557.7,263"/>
<path class="k" d="M501.5,227.5 Q502,231 506,233.5 L542.7,254 L557.7,263"/>
<path d="M493.0,228.2h0.01M492.2,231.1h0.01M494.7,230.3h0.01M493.2,232.7h0.01M494.6,235.0h0.01M493.1,238.1h0.01M492.1,240.1h0.01M494.4,239.8h0.01M493.6,241.9h0.01M492.2,245.2h0.01M494.7,244.3h0.01M492.8,247.3h0.01M494.8,249.6h0.01M493.1,251.9h0.01M492.4,254.0h0.01M494.5,254.3h0.01M493.7,256.6h0.01M492.4,259.0h0.01M493.5,260.8h0.01M493.1,266.2h0.01M492.5,268.4h0.01M494.5,268.4h0.01M492.9,270.0h0.01M494.3,273.2h0.01M493.2,275.5h0.01M494.4,277.0h0.01M493.3,280.3h0.01M492.5,282.6h0.01M494.2,282.1h0.01M493.6,284.2h0.01M494.2,287.1h0.01M493.5,289.7h0.01M492.9,294.3h0.01M492.3,295.8h0.01M494.3,296.4h0.01M493.0,298.5h0.01M494.6,300.9h0.01M493.6,302.7h0.01M494.7,305.2h0.01M493.1,308.4h0.01M492.1,310.4h0.01M494.7,309.9h0.01M493.5,313.1h0.01M494.4,314.6h0.01M493.5,317.6h0.01M494.6,319.3h0.01M493.3,322.4h0.01M494.3,323.9h0.01M493.4,327.1h0.01M494.8,329.3h0.01M493.8,331.1h0.01M494.7,334.0h0.01M492.9,336.3h0.01M494.2,338.2h0.01M493.2,340.8h0.01M492.4,342.9h0.01M494.7,342.9h0.01M493.2,345.1h0.01M493.5,350.0h0.01M494.3,352.9h0.01M493.4,354.6h0.01M492.0,357.0h0.01M494.4,357.0h0.01M493.2,359.8h0.01M492.4,361.5h0.01M494.6,361.4h0.01M493.8,363.7h0.01M494.6,366.4h0.01M492.8,368.4h0.01M494.4,370.6h0.01M493.1,373.3h0.01M494.3,375.8h0.01M493.5,377.6h0.01M493.6,382.9h0.01M493.7,387.0h0.01M492.4,389.7h0.01M494.6,390.1h0.01M493.0,392.1h0.01M493.2,396.4h0.01M492.4,399.2h0.01M493.3,401.2h0.01M492.1,404.0h0.01M494.7,403.9h0.01" fill="none" stroke="#333" stroke-width="0.76" stroke-linecap="round"/>
<path class="k2" d="M490.5,341.4 L503,341.4"/>
<path class="k" d="M542.7,256 L524.5,319 Q522.5,325.5 516.5,323.5 L503.8,316.6"/>
<path class="t" d="M546,257.5 L527.5,322 Q525,329.5 517,327.5 L503.8,321"/>
<path class="k" d="M556.8,275.3 L540.2,330.4 L538,345"/>
<path class="t" d="M557.5,285 L544,331 L542,346"/>
<path class="t" d="M503,338 L556,368 M512.6,342.6 L557,366"/>
<path class="k" d="M560.7,266 L560.7,440 Q561,449 566,452.5"/>
<path class="k" d="M571.5,268 L571.5,410"/>
<path class="t" d="M575,410 L575,458"/>
<path class="t" d="M574.8,268 L574.8,345"/>
<path class="t" d="M578.3,268 L578.3,398"/>
<path class="k2" d="M580.6,268 L580.6,398 Q581,410.5 590,408.6"/>
<path d="M562.8,270.4h0.01M565.4,270.7h0.01M568.2,270.0h0.01M570.7,270.0h0.01M561.7,272.1h0.01M564.2,272.3h0.01M567.1,272.7h0.01M568.9,273.1h0.01M562.9,274.2h0.01M565.2,274.3h0.01M568.3,274.3h0.01M570.4,274.8h0.01M564.1,277.1h0.01M566.2,276.6h0.01M568.8,276.4h0.01M562.6,279.6h0.01M564.8,278.9h0.01M567.8,279.5h0.01M570.0,278.9h0.01M563.9,281.9h0.01M566.2,281.3h0.01M569.3,281.1h0.01M563.2,283.5h0.01M565.0,283.7h0.01M567.4,284.1h0.01M570.7,284.0h0.01M564.5,285.6h0.01M566.7,285.6h0.01M569.6,286.4h0.01M562.5,287.7h0.01M565.3,287.7h0.01M567.7,288.7h0.01M570.3,288.0h0.01M564.0,291.0h0.01M566.1,290.5h0.01M568.9,290.4h0.01M562.8,292.4h0.01M565.0,292.8h0.01M568.3,292.7h0.01M570.1,292.2h0.01M561.5,294.8h0.01M563.5,295.0h0.01M566.6,294.8h0.01M569.3,295.2h0.01M562.8,297.4h0.01M565.3,296.9h0.01M567.6,297.5h0.01M570.1,297.3h0.01M564.0,298.9h0.01M566.8,299.9h0.01M569.6,300.0h0.01M562.5,302.0h0.01M565.2,301.5h0.01M567.3,301.9h0.01M570.5,302.1h0.01M564.2,303.6h0.01M567.0,304.5h0.01M569.2,303.7h0.01M562.6,306.4h0.01M565.4,306.7h0.01M568.1,306.5h0.01M570.3,306.7h0.01M561.6,308.7h0.01M563.8,308.0h0.01M566.6,308.2h0.01M569.6,308.2h0.01M562.4,310.8h0.01M565.0,311.3h0.01M567.9,310.3h0.01M570.0,310.3h0.01M563.8,313.2h0.01M566.4,313.4h0.01M569.2,312.7h0.01M562.4,314.7h0.01M565.8,315.3h0.01M568.2,315.8h0.01M569.8,315.7h0.01M564.4,317.4h0.01M567.0,317.8h0.01M569.0,317.2h0.01M562.8,319.8h0.01M564.9,319.8h0.01M567.2,319.5h0.01M570.5,319.3h0.01M561.5,321.6h0.01M564.5,321.7h0.01M567.0,322.5h0.01M569.6,321.7h0.01M563.3,324.5h0.01M564.7,323.8h0.01M567.3,324.1h0.01M570.8,324.6h0.01M563.4,326.6h0.01M566.4,326.0h0.01M569.5,326.7h0.01M562.9,328.3h0.01M565.2,329.2h0.01M567.8,328.9h0.01M570.2,328.6h0.01M563.6,330.5h0.01M566.0,331.3h0.01M569.6,331.2h0.01M563.2,333.1h0.01M565.7,332.9h0.01M567.5,333.3h0.01M569.9,333.0h0.01M561.8,335.8h0.01M564.6,335.7h0.01M566.3,335.5h0.01M569.1,335.6h0.01M563.3,337.7h0.01M565.2,337.2h0.01M567.5,337.7h0.01M569.7,337.7h0.01M564.5,340.5h0.01M566.0,340.1h0.01M569.0,339.5h0.01M562.7,342.3h0.01M564.7,342.4h0.01M567.9,341.9h0.01M570.3,342.8h0.01M562.0,344.6h0.01M564.0,344.8h0.01M566.4,344.7h0.01M568.8,344.6h0.01M562.9,346.6h0.01M565.1,346.9h0.01M567.7,346.7h0.01M570.1,346.5h0.01M561.7,349.5h0.01M563.6,349.2h0.01M566.5,349.2h0.01M569.2,348.9h0.01M562.8,351.4h0.01M565.8,351.4h0.01M567.9,351.1h0.01M570.6,350.8h0.01M562.0,353.5h0.01M563.9,353.7h0.01M566.6,354.1h0.01M568.5,353.0h0.01M562.4,356.3h0.01M565.3,355.5h0.01M567.6,355.4h0.01M570.0,355.3h0.01M562.1,358.3h0.01M563.8,357.5h0.01M567.1,358.5h0.01M568.5,358.4h0.01M562.7,360.2h0.01M564.7,360.3h0.01M567.4,360.7h0.01M569.9,360.7h0.01M564.3,363.0h0.01M566.6,362.3h0.01M568.7,362.2h0.01M562.5,365.1h0.01M564.7,364.8h0.01M567.8,364.3h0.01M570.5,364.4h0.01M561.8,366.6h0.01M564.5,366.8h0.01M566.0,366.6h0.01M568.6,366.6h0.01M562.6,369.1h0.01M565.6,368.7h0.01M567.3,369.7h0.01M570.0,368.9h0.01M564.6,371.4h0.01M566.8,371.5h0.01M568.6,371.3h0.01M563.1,373.3h0.01M565.1,374.0h0.01M567.2,374.3h0.01M570.4,373.9h0.01M564.4,376.6h0.01M565.9,376.4h0.01M568.6,375.5h0.01M563.2,378.7h0.01M565.0,377.8h0.01M567.8,378.5h0.01M569.7,378.5h0.01M563.6,380.0h0.01M566.5,380.3h0.01M569.5,381.0h0.01M562.9,382.5h0.01M565.2,382.8h0.01M567.7,382.7h0.01M570.7,383.3h0.01M561.8,385.4h0.01M563.8,384.5h0.01M566.2,385.0h0.01M569.3,385.3h0.01M562.5,386.7h0.01M565.2,387.0h0.01M568.2,387.7h0.01M570.3,387.6h0.01M561.8,389.5h0.01M563.9,390.0h0.01M566.9,389.6h0.01M569.6,389.1h0.01M562.5,391.3h0.01M565.3,392.2h0.01M567.4,392.2h0.01M561.6,394.0h0.01M563.8,393.5h0.01M566.2,394.5h0.01M569.4,394.5h0.01M562.2,396.2h0.01M565.3,396.8h0.01M567.2,396.4h0.01M569.7,396.8h0.01M564.2,398.1h0.01M566.5,398.4h0.01M568.6,398.4h0.01M563.3,400.8h0.01M565.1,400.8h0.01M567.3,401.0h0.01M570.5,400.3h0.01M564.2,402.4h0.01M566.9,402.5h0.01M569.4,402.6h0.01M563.3,405.7h0.01M564.8,405.5h0.01M567.7,404.9h0.01M570.2,405.8h0.01M564.1,408.0h0.01M566.5,407.2h0.01M569.4,407.0h0.01M562.2,409.4h0.01M565.7,409.3h0.01M568.3,409.3h0.01M570.8,409.2h0.01M561.7,412.0h0.01M564.1,412.5h0.01M566.2,412.6h0.01M569.1,412.4h0.01M571.2,412.6h0.01M563.0,414.2h0.01M564.9,414.7h0.01M567.8,414.8h0.01M570.7,414.5h0.01M561.8,416.1h0.01M564.4,416.8h0.01M566.0,416.0h0.01M568.5,416.2h0.01M571.8,416.8h0.01M563.0,418.6h0.01M565.8,418.3h0.01M567.4,418.7h0.01M570.0,419.0h0.01M561.9,421.3h0.01M563.8,421.1h0.01M566.3,421.1h0.01M569.0,420.6h0.01M571.9,421.4h0.01M563.1,422.8h0.01M564.9,423.5h0.01M568.1,423.4h0.01M570.8,423.2h0.01M563.8,425.4h0.01M566.8,425.3h0.01M569.3,425.6h0.01M570.9,425.5h0.01M563.2,427.9h0.01M565.7,427.9h0.01M568.3,427.2h0.01M570.2,427.4h0.01M561.8,429.8h0.01M564.2,430.2h0.01M565.9,430.1h0.01M568.8,429.7h0.01M571.7,430.2h0.01M562.4,432.5h0.01M564.7,431.7h0.01M568.2,432.8h0.01M570.8,432.8h0.01M561.8,434.6h0.01M564.0,434.5h0.01M567.0,435.1h0.01M568.9,434.1h0.01M571.5,434.4h0.01M563.1,437.3h0.01M565.4,436.2h0.01M567.8,436.3h0.01M570.3,437.1h0.01M561.7,439.0h0.01M563.6,439.5h0.01M566.9,439.0h0.01M568.5,439.2h0.01M571.4,438.9h0.01M562.6,441.0h0.01M564.8,441.4h0.01M567.8,441.2h0.01M570.6,441.3h0.01M564.1,443.7h0.01M566.7,443.8h0.01M568.8,443.8h0.01M571.6,443.2h0.01M562.3,445.9h0.01M565.7,446.3h0.01M568.1,446.1h0.01M570.4,445.4h0.01M563.7,448.0h0.01M566.6,447.4h0.01M568.5,447.6h0.01M571.9,448.3h0.01M565.8,449.8h0.01M568.1,450.4h0.01M570.7,450.5h0.01M567.0,452.3h0.01M569.0,452.5h0.01M571.6,452.6h0.01M567.8,454.4h0.01M570.2,455.0h0.01M571.0,457.2h0.01" fill="none" stroke="#333" stroke-width="0.84" stroke-linecap="round"/>
<path d="M575.0,400.6h0.01M576.8,400.3h0.01M573.0,401.8h0.01M575.5,402.1h0.01M578.3,401.9h0.01M572.5,404.1h0.01M574.4,405.1h0.01M577.0,404.4h0.01M580.0,405.1h0.01M573.7,406.6h0.01M576.4,406.2h0.01M578.6,406.8h0.01M572.4,408.9h0.01M574.3,409.6h0.01M577.2,408.6h0.01M579.4,408.4h0.01M573.9,411.4h0.01M575.8,411.5h0.01M578.9,410.9h0.01M580.7,411.1h0.01M572.4,413.2h0.01M575.1,413.1h0.01M576.8,412.9h0.01M579.9,413.6h0.01M582.3,413.6h0.01M573.7,415.6h0.01M576.0,416.2h0.01M578.5,416.0h0.01M580.5,415.7h0.01M583.0,415.4h0.01M574.4,418.5h0.01M577.1,417.8h0.01M579.3,417.8h0.01M582.6,418.1h0.01M573.7,420.2h0.01M576.5,420.2h0.01M578.1,419.9h0.01M581.4,419.7h0.01M583.2,420.4h0.01M572.5,422.5h0.01M575.0,422.4h0.01M577.4,421.9h0.01M579.7,423.1h0.01M582.4,422.3h0.01M584.9,423.1h0.01M573.5,424.6h0.01M576.4,425.2h0.01M578.2,425.0h0.01M580.8,424.6h0.01M583.9,424.6h0.01M572.8,427.0h0.01M575.2,426.6h0.01M577.2,426.4h0.01M580.2,427.5h0.01M582.3,427.0h0.01M573.3,428.8h0.01M576.6,429.6h0.01M578.6,429.5h0.01M581.5,429.5h0.01M583.1,429.4h0.01M572.7,431.5h0.01M574.7,431.7h0.01M576.9,431.2h0.01M580.0,432.1h0.01M581.8,431.7h0.01M584.8,430.9h0.01M573.1,433.5h0.01M576.3,433.3h0.01M578.4,433.9h0.01M581.4,434.3h0.01M584.0,433.4h0.01M572.4,436.1h0.01M574.9,436.1h0.01M577.2,435.7h0.01M580.0,436.4h0.01M582.5,436.2h0.01M573.6,438.6h0.01M576.2,437.7h0.01M578.6,438.6h0.01M580.7,438.1h0.01M584.1,438.2h0.01M572.4,440.6h0.01M575.2,440.4h0.01M577.8,440.7h0.01M579.7,440.6h0.01M582.1,440.0h0.01M584.8,440.0h0.01M573.3,443.2h0.01M576.6,442.4h0.01M578.1,442.6h0.01M581.0,442.3h0.01M583.9,442.3h0.01M572.3,444.7h0.01M575.0,444.5h0.01M577.3,445.4h0.01M579.2,444.6h0.01M581.8,445.4h0.01M574.0,446.9h0.01M576.0,447.5h0.01M578.7,446.7h0.01M580.5,446.9h0.01M584.1,447.7h0.01M575.0,449.1h0.01M577.8,450.0h0.01M580.1,449.8h0.01M582.6,449.9h0.01M584.7,449.8h0.01M573.0,452.0h0.01M576.0,452.3h0.01M578.9,451.7h0.01M581.3,451.9h0.01M583.7,451.2h0.01M575.0,454.5h0.01M577.5,454.3h0.01M580.0,453.6h0.01M582.0,454.1h0.01M573.8,456.1h0.01M575.8,455.9h0.01M578.4,456.3h0.01M580.6,456.8h0.01" fill="none" stroke="#333" stroke-width="0.84" stroke-linecap="round"/>
<path class="k2" d="M564,318.8 L583,318.8"/>
<path class="k2" d="M555.5,343.9 L582,343.9"/>
<path class="k" d="M580.6,268 Q582,266.5 585,265.3 Q650,237.5 707.5,205.8 Q712.8,203 713.3,209 L717,300 L718.3,345"/>
<path class="t" d="M584,271 Q650,242 704,211.5 Q709,209.5 709.5,215 L712.8,300 L713.8,346"/>
<path class="k2" d="M590,408.6 L629.5,391.4 L672,367.6 L707.8,348"/>
<path class="k" d="M580.2,405 Q581.5,416 591,414.5 L638,394.8 L689,365.9 L716.3,348.9"/>
<path class="t" d="M716.6,202 L721,300 L722,346 M719.3,199 L723.6,300 L724.8,346"/>
<path class="k2" d="M723.5,196 L726.1,274.4 L728,318.8 L728.7,370 L729.6,484"/>
<path class="k" d="M717.3,348 L717.5,400 L718,481 M721,348 L721.4,484 M724.6,348 L725,484"/>
<path class="k" d="M714.3,478 L721.4,485.4 L729.6,484"/>
<path class="k2" d="M701,346.2 L731,346.2"/>
<path class="k2" d="M715,319.6 L729,319.6"/>
<path class="k" d="M597,256.5 L670,303.5 Q678.5,308.5 679.3,298 L680.8,219.5"/>
<path class="k" d="M595.3,261 L669,309.5 Q682,316.5 683.3,300 L684.6,219"/>
<path class="k" d="M680.8,219.5 Q682,214.5 686.5,215.6 L693,218.2 M684.6,221.5 L690.5,224"/>
<circle class="k" cx="696" cy="222.3" r="3.3"/><circle class="t" cx="696.3" cy="222.6" r="1.5"/>
<path class="k" d="M651.7,230.3 L690,249.8 M648.8,235.2 L686.5,255.2 Q689,256.8 691,257.3"/>
<circle class="k" cx="693.4" cy="254.2" r="3.3"/><circle class="t" cx="693.7" cy="254.5" r="1.5"/>
<path class="k" d="M624.1,243.9 L690,281.3 M621.3,249 L686.5,286.8 Q689,288.4 691,288.9"/>
<circle class="k" cx="693.4" cy="285.8" r="3.3"/><circle class="t" cx="693.7" cy="286.1" r="1.5"/>
<path class="t" d="M581,275.3 L678,330.4 Q684,334.5 684,342 L683.5,362"/>
<path class="t" d="M582.8,281 L645.4,316"/>
<path class="k" d="M657,322.5 Q678,333 681.5,341.5"/>
<path class="t" d="M582.8,362.7 L630.4,390.5 M581.5,369 L622,393.8 M582.8,385.2 L606,399.5"/>
<path class="k" d="M599.5,550.4 L599.3,419 Q599.5,412 605,412.6 Q608.3,413.5 608.3,419 L607.3,543"/>
<path class="k" d="M604.5,414 L603,550.4 M597.7,546.6 L599.5,550.4 L603,550.4 L607.3,543"/>
<path class="k" d="M608.3,435.6 Q655,411.5 708,381 Q712.5,378.5 713,384"/>
<path class="k" d="M608,452.5 Q660,428.5 712.5,398.5"/>
<path class="t" d="M608.5,455 Q660,431 712.5,401"/>
<path class="k" d="M608,470.6 Q655,450 713,417"/>
<path class="k" d="M607.8,529 Q665,505 714.3,476.5"/>
<path class="k" d="M606.5,543 Q670,516 720.6,485.2"/>
<path class="k" d="M614,482 Q614,475 619,472.3 L634.5,464.6 Q640.2,462 640.8,468 L641.6,476.5 L671,460 Q674.5,458 674.8,453.5 L675.4,447 Q675.8,442.5 679.5,440.5 L696,432 Q700.5,430 700.5,436.4 L700.5,468 Q700.3,477 693,481.2 L680.5,488.5 Q676,490.8 675.8,486 L675.4,481.5 L645,497 Q642.6,498.3 642.5,501.5 L641.8,509 Q641.5,513 638,515 L620,524.2 Q614.2,527 614,520.3 Z"/>
<path class="t" d="M611.6,483 Q611.6,474 618,470.2 L634.5,462 Q642.8,458.5 643.2,467 L643.6,472.5 L669.5,458 Q672.3,456.3 672.5,453 L673,446 Q673.5,441 678,438.5 L696,429.5 Q703,427 703,436 L703,469 Q702.8,478.5 694.5,483.3 L679,492 M644,500.5 L644,510 Q643.7,515 639.5,517.2 L620,527 Q611.8,530.5 611.6,521 L611.6,483"/>
<rect class="k" x="626" y="482.5" width="7.2" height="26.5" rx="3.6" transform="rotate(5 629.6 495.5)"/>
<rect class="k" x="685.6" y="449.5" width="7.2" height="26.5" rx="3.6" transform="rotate(5 689.2 462.7)"/>
<path class="t" d="M627.3,489 L627.3,503.5 M687,456 L687,470.5"/>
<path class="k2" d="M489.8,500.4 L557.6,542.9 Q566,549 575.2,551.5 Q583,552.3 590,549.8 L597.7,546.6"/>
<path class="t" d="M575.2,472.7 L575.2,550.4"/>
<ellipse class="k" cx="562.4" cy="538.6" rx="5.2" ry="3.9" transform="rotate(-35 562.4 538.6)"/>
<path class="k" d="M558.2,542.2 Q561,546 566.5,542.8"/>
<path class="k" d="M543.3,472 L554,477.8 L554.5,494.5 L543.8,488.5 Z"/>
<path class="t" d="M545.3,475.8 L552.5,479.8 L552.8,491 L545.6,487 Z M548.5,480.2 L551.3,481.8 L551.4,488.5 L548.6,487 Z"/>
<path class="k" d="M438,195.7 L427.8,232.5 M445.8,200.4 L435.5,233.3"/>
<path class="k" d="M437.5,222 L443,218.3 L450.5,222.5 L450.3,228.5 L445.5,231.5 L437.8,227.5 Z M443,218.3 L443.2,224.5 L450.3,228.5 M443.2,224.5 L437.8,227.5"/>
<path class="k" d="M439.6,236.4 L442.2,258 M446,233.5 L449.5,256"/>
<circle class="k" cx="443.2" cy="262" r="3.4"/>
<circle class="t" cx="442.6" cy="263" r="1.2"/>
<path class="k" d="M446.5,260.5 L452,257 L452.2,248 L455.5,246.5 L456.8,257.5 L448,265"/>
<path class="k" d="M444.5,265.8 L447.3,270 Q459,295 461,305 Q462,314 454,317.5 L436,325.8 M449,264.8 L455.1,270 Q466.5,293 468.5,305 Q470,318.5 461,323 L449,329"/>
<path class="k" d="M395.7,253.6 Q398,244 411.3,234.8 Q419,229.8 427,229.3 M402,250.5 Q405,243 414,237.5 Q421,234 426,234.8"/>
<path class="t" d="M395.7,253.6 L402,250.5 M404.5,243.5 L408,246 M411,238 L414,241"/>
<path class="k" d="M427.8,232.5 L423,236.5 L426.5,240 L435.5,233.3"/>
<path class="k" d="M355.5,273.5 L427,239.6 M361,278 L434.9,242.7"/>
<path class="t" d="M358,276 L430,241.5"/>
<path class="k" d="M352.3,371.8 L421.8,336.6 M357.2,376.7 L426.7,341.5 M362.1,383.6 L437.5,346.4"/>
<path class="t" d="M455.1,332.7 L471.8,324.8 M458,337.5 L472,330.5"/>
<path class="k" d="M313.3,335 L321.1,331.1 L327,333 L327.6,341.5 L321.1,343.5 L314.6,340.9 Z M321.1,331.1 L321.3,337.5 L327.6,341.5 M321.3,337.5 L314.6,340.9"/>
<circle class="k" cx="316.6" cy="337" r="2.2"/>
<path class="k" d="M319.2,343.5 Q320.5,357 327.6,368.3 M325.7,342.8 Q326.5,352.5 329.6,359.2 Q332,363.5 336.8,364.4"/>
<path class="k" d="M327.6,368.3 L331,370.5 M336.8,364.4 Q339,366 338.5,369"/>
<circle class="k" cx="334.8" cy="372.6" r="3"/>
<circle class="k" cx="324.4" cy="384.6" r="4.3"/>
<circle class="k" cx="324" cy="385" r="2"/>
<path class="k" d="M329.6,372.2 L340,413.3 M331.6,371.5 L341.8,412"/>
<path class="k" d="M414.8,403.1 Q412.5,401.5 410.7,402 Q406.5,403.5 406.7,406.5 Q406.5,409.5 409,411 L412.2,413 Q414.5,414.8 417.5,414.3 L421.1,412.5 Q424,411 423.5,409.2 Q423,407 420.5,407.1 Q418.5,407.3 416.4,409.3 Q414.5,409 413.3,408 L410.7,406.2 L414.8,404.6 Q415.8,403.8 414.8,403.1 Z"/>
</g><!--endcab-->
</svg>
</body></html>
